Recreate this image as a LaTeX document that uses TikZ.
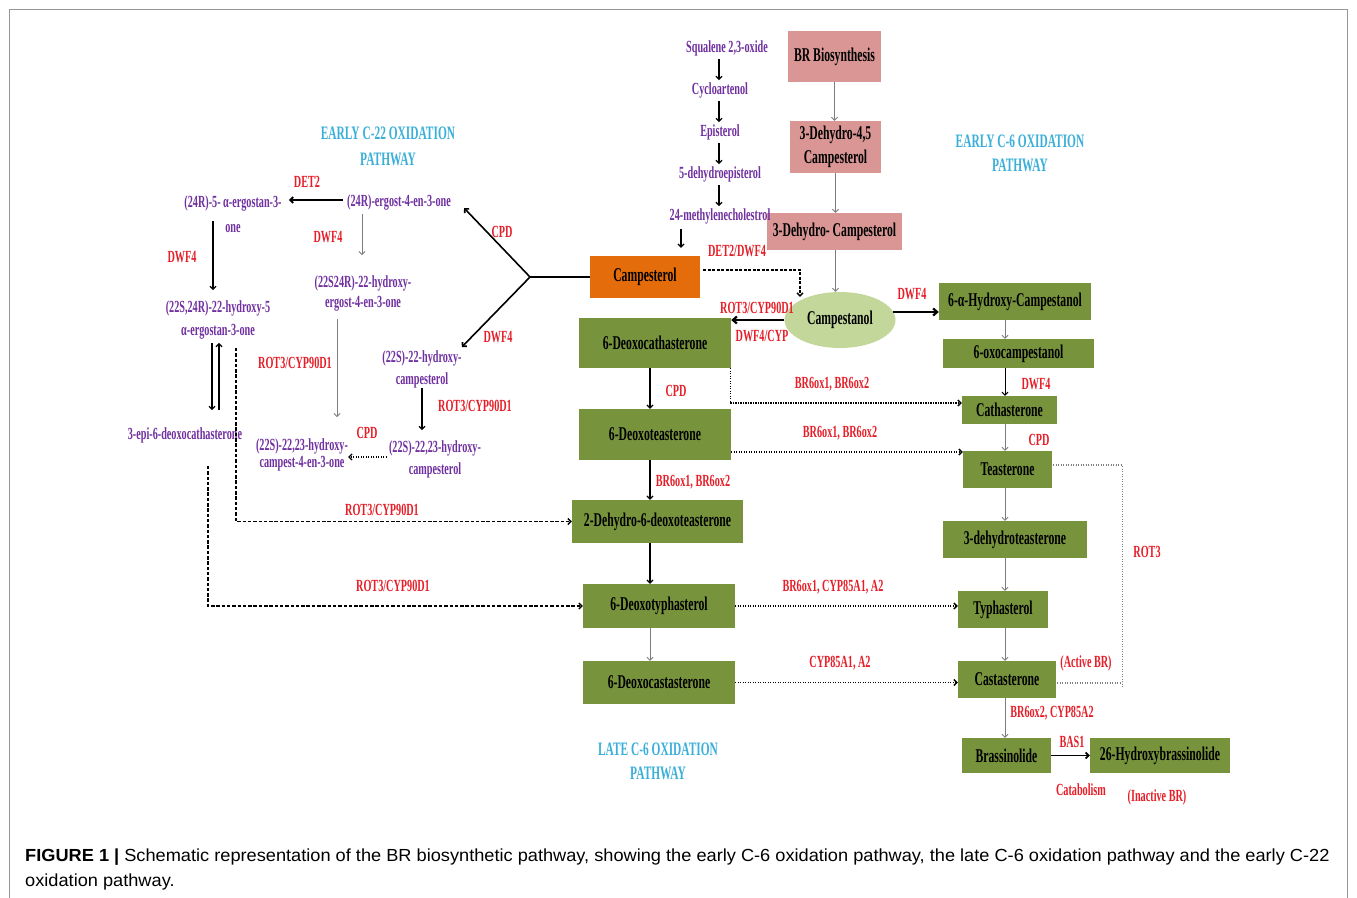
\documentclass[tikz,border=0pt]{standalone}
\usepackage{fontspec}
\usetikzlibrary{arrows.meta,calc,shapes.geometric}
\newfontfamily\tf[FakeStretch=0.6]{Liberation Serif}
\newfontfamily\capf[FakeStretch=1.04]{Liberation Sans}
\definecolor{pinkc}{RGB}{217,150,148}
\definecolor{orc}{RGB}{228,108,10}
\definecolor{grc}{RGB}{119,147,60}
\definecolor{lgc}{RGB}{196,215,155}
\definecolor{purc}{RGB}{112,48,160}
\definecolor{redc}{RGB}{230,30,40}
\definecolor{bluc}{RGB}{58,175,217}
\definecolor{gryc}{RGB}{125,125,125}
\definecolor{framec}{RGB}{150,150,150}
\begin{document}
\begin{tikzpicture}[x=1pt,y=-1pt,
 bx/.style={inner sep=0pt, align=center, font=\tf\bfseries\fontsize{19.5}{24}\selectfont, text=black},
 pbx/.style={bx, fill=pinkc},
 gbx/.style={bx, fill=grc},
 ptx/.style={inner sep=0pt, align=center, text=purc, font=\tf\bfseries\fontsize{17}{#1}\selectfont},
 ptx/.default=20,
 rtx/.style={inner sep=0pt, text=redc, font=\tf\bfseries\fontsize{17}{20}\selectfont},
 btx/.style={inner sep=0pt, align=center, text=bluc, font=\tf\bfseries\fontsize{19}{#1}\selectfont},
 btx/.default=24,
 ar/.style={-{Straight Barb[length=3pt,width=6pt]}, line width=1.2pt, black},
 gar/.style={-{Straight Barb[length=3pt,width=6pt]}, line width=0.9pt, gryc},
 tar/.style={-{Straight Barb[length=4pt,width=7pt]}, line width=2.2pt, black},
 dotar/.style={-{Straight Barb[length=3pt,width=6pt]}, line width=1.3pt, dash pattern=on 1.2pt off 1.3pt},
 dotln/.style={line width=1.3pt, dash pattern=on 1.2pt off 1.3pt, gryc},
 dshar/.style={-{Straight Barb[length=3pt,width=6pt]}, line width=1.4pt, dash pattern=on 3.5pt off 1.8pt}
]
\useasboundingbox (0,0) rectangle (1357,897);
\clip (0,0) rectangle (1357,897);
\fill[white] (0,0) rectangle (1357,897);
\draw[framec, line width=0.8pt] (9.5,9.5) rectangle (1347.5,960);

% ---------- boxes ----------
\node[pbx, minimum width=93, minimum height=51] (brb) at (834.5,56.5) {BR Biosynthesis};
\node[pbx, minimum width=91, minimum height=52] (dc45) at (835.5,147) {3-Dehydro-4,5\\Campesterol};
\node[pbx, minimum width=135, minimum height=37] (dc) at (834.5,231.5) {3-Dehydro- Campesterol};
\node[bx, fill=orc, minimum width=110, minimum height=42] (camp) at (645,277) {Campesterol};
\node[bx, ellipse, fill=lgc, minimum width=111, minimum height=56] (cstn) at (840,320) {Campestanol};
\node[gbx, minimum width=152, minimum height=37] (ohc) at (1015,301.5) {6-α-Hydroxy-Campestanol};
\node[gbx, minimum width=151, minimum height=29] (oxo) at (1018.5,353.5) {6-oxocampestanol};
\node[gbx, minimum width=95, minimum height=28] (cath) at (1009.5,410) {Cathasterone};
\node[gbx, minimum width=89, minimum height=37] (teas) at (1007.5,469.5) {Teasterone};
\node[gbx, minimum width=144, minimum height=37] (dht) at (1015,539.5) {3-dehydroteasterone};
\node[gbx, minimum width=90, minimum height=37] (typh) at (1003,609.5) {Typhasterol};
\node[gbx, minimum width=98, minimum height=37] (cast) at (1007,679.5) {Castasterone};
\node[gbx, minimum width=89, minimum height=35] (brass) at (1006.5,755.5) {Brassinolide};
\node[gbx, minimum width=140, minimum height=35] (hb26) at (1160,755.5) {26-Hydroxybrassinolide};
\node[gbx, minimum width=152, minimum height=50] (dcath) at (655,343) {6-Deoxocathasterone};
\node[gbx, minimum width=152, minimum height=51] (dteas) at (655,434.5) {6-Deoxoteasterone};
\node[gbx, minimum width=171, minimum height=43] (dhdt) at (657.5,521.5) {2-Dehydro-6-deoxoteasterone};
\node[gbx, minimum width=152, minimum height=44] (dtyph) at (659,606) {6-Deoxotyphasterol};
\node[gbx, minimum width=152, minimum height=43] (dcast) at (659,682.5) {6-Deoxocastasterone};

% ---------- purple compounds ----------
\node[ptx] (sq) at (727,48) {Squalene 2,3-oxide};
\node[ptx] (cyc) at (720,90) {Cycloartenol};
\node[ptx] (epi) at (720,132) {Episterol};
\node[ptx] (dep) at (720,174) {5-dehydroepisterol};
\node[ptx] (meth) at (720,216) {24-methylenecholestrol};
\node[ptx] (ergost) at (399,202) {(24R)-ergost-4-en-3-one};
\node[ptx=25] (aerg) at (233,214.5) {(24R)-5- α-ergostan-3-\\one};
\node[ptx=20] (h22) at (363,293) {(22S24R)-22-hydroxy-\\ergost-4-en-3-one};
\node[ptx=23] (h22a) at (218,319.5) {(22S,24R)-22-hydroxy-5\\α-ergostan-3-one};
\node[ptx] (epi3) at (185,435) {3-epi-6-deoxocathasterone};
\node[ptx=17] (hce) at (302,454.5) {(22S)-22,23-hydroxy-\\campest-4-en-3-one};
\node[ptx=22] (hc22) at (422,369) {(22S)-22-hydroxy-\\campesterol};
\node[ptx=22] (hc2223) at (435,459) {(22S)-22,23-hydroxy-\\campesterol};

% ---------- pathway titles ----------
\node[btx=26] (t22) at (388,146) {EARLY C-22 OXIDATION\\PATHWAY};
\node[btx] (t6e) at (1020,153) {EARLY C-6 OXIDATION\\PATHWAY};
\node[btx] (t6l) at (658,761) {LATE C-6 OXIDATION\\PATHWAY};

% ---------- enzyme labels ----------
\node[rtx] (l1) at (307,182) {DET2};
\node[rtx] (l2) at (328,237) {DWF4};
\node[rtx] (l3) at (182,257) {DWF4};
\node[rtx] (l4) at (502,232) {CPD};
\node[rtx] (l5) at (498,337) {DWF4};
\node[rtx] (l6) at (295,363) {ROT3/CYP90D1};
\node[rtx] (l7) at (475,406) {ROT3/CYP90D1};
\node[rtx] (l8) at (367,433) {CPD};
\node[rtx] (l9) at (382,510) {ROT3/CYP90D1};
\node[rtx] (l10) at (393,586) {ROT3/CYP90D1};
\node[rtx] (l11) at (737,251) {DET2/DWF4};
\node[rtx] (l12) at (757,308) {ROT3/CYP90D1};
\node[rtx] (l13) at (762,336) {DWF4/CYP};
\node[rtx] (l14) at (912,294) {DWF4};
\node[rtx] (l15) at (676,391) {CPD};
\node[rtx] (l16) at (832,384) {BR6ox1, BR6ox2};
\node[rtx] (l17) at (840,433) {BR6ox1, BR6ox2};
\node[rtx] (l18) at (693,482) {BR6ox1, BR6ox2};
\node[rtx] (l19) at (1036,384) {DWF4};
\node[rtx] (l20) at (1039,440) {CPD};
\node[rtx] (l21) at (1147,552) {ROT3};
\node[rtx] (l22) at (833,587) {BR6ox1, CYP85A1, A2};
\node[rtx] (l23) at (840,663) {CYP85A1, A2};
\node[rtx] (l24) at (1086,663) {(Active BR)};
\node[rtx] (l25) at (1052,713) {BR6ox2, CYP85A2};
\node[rtx] (l26) at (1072,742) {BAS1};
\node[rtx] (l27) at (1081,790) {Catabolism};
\node[rtx] (l28) at (1157,797) {(Inactive BR)};

% ---------- helper coordinates ----------
\coordinate (mx) at (650,0);
\coordinate (rx) at (1005,0);
\coordinate (px) at (719,0);
\coordinate (jn) at (530,277);
\coordinate (ce) at ($(cstn.east)+(-3,-8)$);
\coordinate (dte) at ($(dteas.east)+(0,17.5)$);
\coordinate (hcw) at ($(hc2223.west)+(-2,-2)$);
\coordinate (brk) at ($(cast.east)+(66,0)$);

% ---------- top purple chain ----------
\draw[ar, shorten <=3pt, shorten >=2pt] (sq.south -| px) -- (cyc.north -| px);
\draw[ar, shorten <=3pt, shorten >=2pt] (cyc.south -| px) -- (epi.north -| px);
\draw[ar, shorten <=3pt, shorten >=2pt] (epi.south -| px) -- (dep.north -| px);
\draw[ar, shorten <=3pt, shorten >=2pt] (dep.south -| px) -- (meth.north -| px);
\draw[ar] ($(meth.south)+(-39,5)$) -- ($(camp.north)+(36,-8)$);

% ---------- pink column ----------
\draw[gar] (brb.south) -- (brb.south |- dc45.north);
\draw[gar] (dc45.south) -- (dc45.south |- dc.north);
\draw[gar] (dc45.south |- dc.south) -- (dc45.south |- cstn.north);

% ---------- campesterol branches ----------
\draw[line width=1.6pt] (camp.west) -- (jn);
\draw[ar, line width=1.6pt] (jn) -- ($(ergost.east)+(13,6)$);
\draw[ar, line width=1.6pt] (jn) -- ($(hc22.north east)+(0,-3)$);
\draw[dshar, line width=1.3pt, dash pattern=on 3pt off 1.5pt] ($(camp.east)+(3,-7)$) -| ($(cstn.north)+(-40,5)$);

% ---------- campestanol ----------
\draw[tar] (cstn.west) -- (cstn.west -| dcath.east);
\draw[tar] (ce) -- (ce -| ohc.west);

% ---------- right column ----------
\draw[gar] (ohc.south -| rx) -- (oxo.north -| rx);
\draw[ar, line width=1pt] (oxo.south -| rx) -- (cath.north -| rx);
\draw[gar] (cath.south -| rx) -- (teas.north -| rx);
\draw[gar] (teas.south -| rx) -- (dht.north -| rx);
\draw[gar] (dht.south -| rx) -- (typh.north -| rx);
\draw[gar] (typh.south -| rx) -- (cast.north -| rx);
\draw[gar] (cast.south -| rx) -- (brass.north -| rx);
\draw[ar, line width=1.8pt] (brass.east) -- (hb26.west);
\draw[dotln] ($(teas.east)+(1,-4.5)$) -| ($(brk)+(0,8)$);
\draw[dotln] ($(cast.east)+(1,3.5)$) -- ($(brk)+(0,3.5)$);

% ---------- middle column ----------
\draw[ar] (dcath.south -| mx) -- (dteas.north -| mx);
\draw[ar] (dteas.south -| mx) -- (dhdt.north -| mx);
\draw[ar] (dhdt.south -| mx) -- (dtyph.north -| mx);
\draw[gar] (dtyph.south -| mx) -- (dcast.north -| mx);

% ---------- dotted cross links ----------
\draw[dotar] ($(dcath.south east)+(-1,0)$) |- ($(cath.west)+(0,-7)$);
\draw[dotar] (dte) -- (dte -| teas.west);
\draw[dotar] (dtyph.east) -- (dtyph.east -| typh.west);
\draw[dotar] (dcast.east) -- (dcast.east -| cast.west);

% ---------- early C-22 branch ----------
\draw[ar, line width=2pt, shorten >=7pt] ($(ergost.west)+(-4,-2)$) -- ($(aerg.east)+(0,-14.5)$);
\draw[gar] ($(ergost.south)+(-37,4)$) -- ($(h22.north)+(-1,-20)$);
\draw[ar] ($(aerg.south)+(-20,-12)$) -- ($(h22a.north)+(-5,-10)$);
\draw[gar] ($(h22.south)+(-26,8)$) -- ($(hce.north)+(35,-21)$);
\draw[ar] (hc22.south) -- ($(hc2223.north)+(-13,-10)$);
\draw[dotar] (hcw) -- (hcw -| hce.east);
\draw[ar] ($(h22a.south)+(-6,4)$) -- ($(epi3.north)+(27,-17)$);
\draw[ar] ($(epi3.north)+(34,-17)$) -- ($(h22a.south)+(1,4)$);
\draw[dshar] ($(h22a.south)+(18,9)$) |- (dhdt.west);
\draw[dshar] ($(epi3.south)+(23,23)$) |- (dtyph.west);

% ---------- caption ----------
\node[anchor=base west, inner sep=0pt, font=\capf\fontsize{17.5}{20}\selectfont] (cap1) at (25,861)
 {\textbf{FIGURE 1 |} Schematic representation of the BR biosynthetic pathway, showing the early C-6 oxidation pathway, the late C-6 oxidation pathway and the early C-22};
\node[anchor=base west, inner sep=0pt, font=\capf\fontsize{17.5}{20}\selectfont] (cap2) at (25,886)
 {oxidation pathway.};
\end{tikzpicture}
\end{document}
